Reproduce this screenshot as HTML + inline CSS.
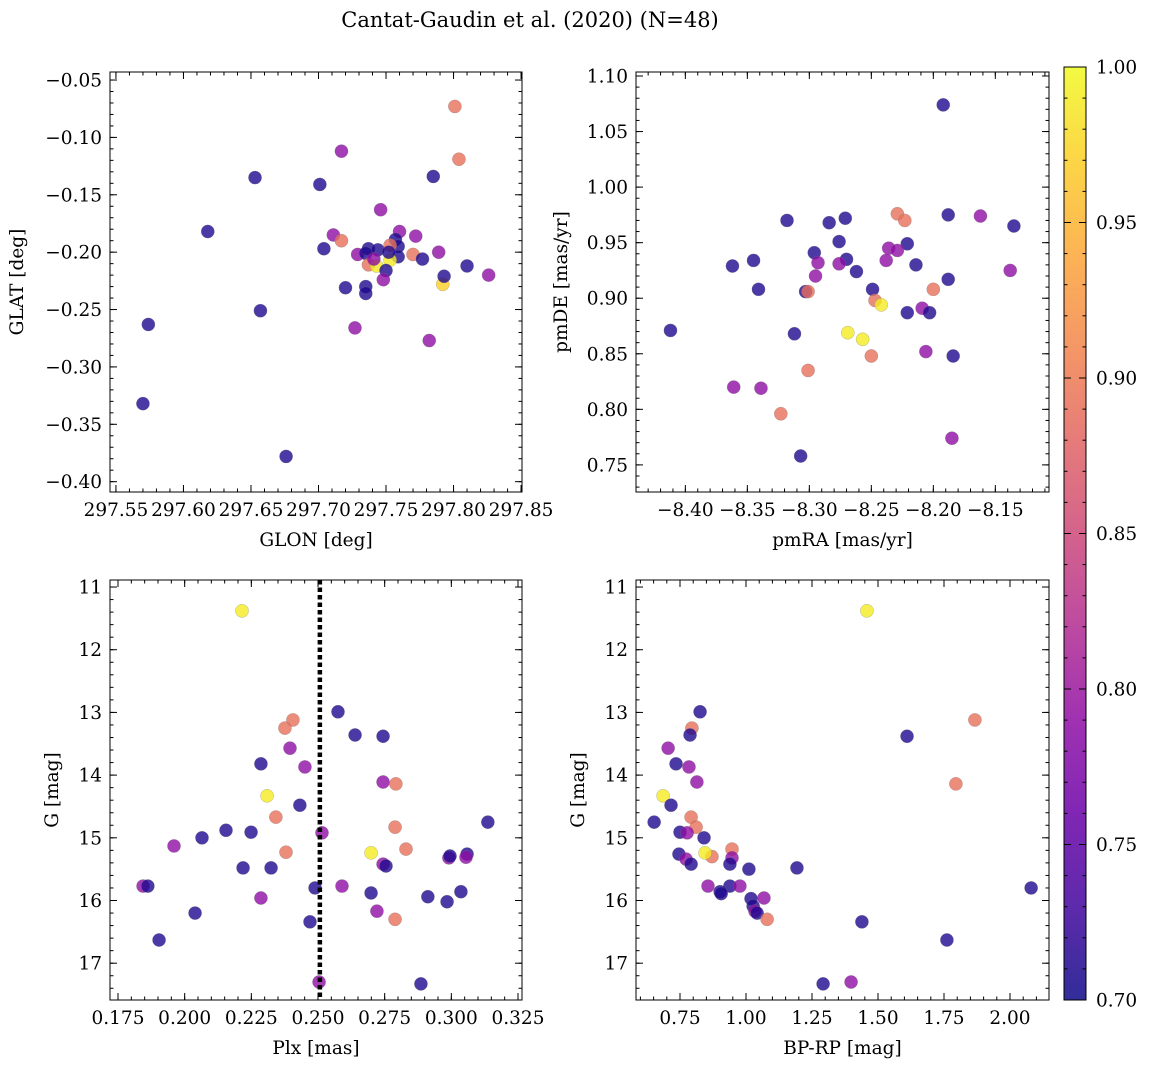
<!DOCTYPE html>
<html><head><meta charset="utf-8">
<style>
html,body{margin:0;padding:0;background:#fff;}
svg{display:block;font-family:"DejaVu Serif","Liberation Serif",serif;}
</style></head>
<body>
<svg id="fig" width="1149" height="1067" viewBox="0 0 1149 1067" xmlns="http://www.w3.org/2000/svg">
<text x="530" y="27" font-size="21" text-anchor="middle">Cantat-Gaudin et al. (2020) (N=48)</text>
</svg>
<script>
// ---------- data ----------
const glon = [297.801,297.804,297.717,297.653,297.785,297.701,297.618,297.746,297.711,297.717,297.760,297.772,297.704,297.729,297.737,297.744,297.757,297.759,297.753,297.735,297.770,297.789,297.759,297.777,297.737,297.743,297.753,297.750,297.748,297.792,297.793,297.810,297.826,297.720,297.735,297.735,297.727,297.782,297.657,297.574,297.570,297.676,297.741,297.752];
const glat = [-0.073,-0.119,-0.112,-0.135,-0.134,-0.141,-0.182,-0.163,-0.185,-0.190,-0.182,-0.186,-0.197,-0.202,-0.197,-0.198,-0.189,-0.195,-0.194,-0.201,-0.202,-0.200,-0.204,-0.206,-0.211,-0.212,-0.207,-0.216,-0.224,-0.228,-0.221,-0.212,-0.220,-0.231,-0.230,-0.236,-0.266,-0.277,-0.251,-0.263,-0.332,-0.378,-0.206,-0.200];
const probA = [0.89,0.89,0.79,0.71,0.71,0.71,0.71,0.79,0.79,0.89,0.79,0.79,0.71,0.79,0.71,0.71,0.71,0.71,0.89,0.71,0.89,0.79,0.71,0.71,0.89,0.99,0.99,0.71,0.79,0.97,0.71,0.71,0.79,0.71,0.71,0.71,0.79,0.79,0.71,0.71,0.71,0.71,0.79,0.71];

const pmra = [-8.192,-8.229,-8.223,-8.188,-8.162,-8.135,-8.284,-8.271,-8.318,-8.276,-8.221,-8.236,-8.229,-8.296,-8.270,-8.293,-8.276,-8.238,-8.345,-8.362,-8.262,-8.214,-8.295,-8.138,-8.188,-8.341,-8.249,-8.200,-8.303,-8.301,-8.247,-8.242,-8.209,-8.221,-8.203,-8.412,-8.312,-8.269,-8.257,-8.206,-8.250,-8.184,-8.301,-8.361,-8.339,-8.323,-8.185,-8.307];
const pmde = [1.074,0.976,0.970,0.975,0.974,0.965,0.968,0.972,0.970,0.951,0.949,0.945,0.943,0.941,0.935,0.932,0.931,0.934,0.934,0.929,0.924,0.930,0.920,0.925,0.917,0.908,0.908,0.908,0.906,0.906,0.898,0.894,0.891,0.887,0.887,0.871,0.868,0.869,0.863,0.852,0.848,0.848,0.835,0.820,0.819,0.796,0.774,0.758];
const probB = [0.71,0.89,0.89,0.71,0.79,0.71,0.71,0.71,0.71,0.71,0.71,0.79,0.79,0.71,0.71,0.79,0.79,0.79,0.71,0.71,0.71,0.71,0.79,0.79,0.71,0.71,0.71,0.89,0.71,0.89,0.89,0.99,0.79,0.71,0.71,0.71,0.71,0.99,0.99,0.79,0.89,0.71,0.89,0.79,0.79,0.89,0.79,0.71];

const plx = [0.2215,0.2575,0.2406,0.2376,0.2639,0.2744,0.2395,0.2286,0.2451,0.2744,0.2792,0.2309,0.2432,0.2342,0.2789,0.2155,0.2249,0.2515,0.2065,0.3137,0.196,0.283,0.238,0.2699,0.3059,0.3055,0.2991,0.2995,0.2744,0.2755,0.2219,0.2324,0.1844,0.1862,0.2489,0.259,0.2699,0.3036,0.2286,0.2912,0.2984,0.2721,0.2039,0.2789,0.247,0.1904,0.2886,0.2504];
const gmagC = [11.38,12.99,13.12,13.25,13.36,13.38,13.57,13.82,13.87,14.11,14.14,14.33,14.48,14.67,14.83,14.88,14.91,14.92,15.00,14.75,15.13,15.18,15.23,15.24,15.26,15.31,15.32,15.29,15.42,15.45,15.48,15.48,15.77,15.77,15.80,15.77,15.88,15.86,15.96,15.94,16.02,16.17,16.20,16.30,16.34,16.63,17.33,17.30];
const probC = [0.99,0.71,0.89,0.89,0.71,0.71,0.79,0.71,0.79,0.79,0.89,0.99,0.71,0.89,0.89,0.71,0.71,0.79,0.71,0.71,0.79,0.89,0.89,0.99,0.71,0.79,0.79,0.71,0.79,0.71,0.71,0.71,0.79,0.71,0.71,0.79,0.71,0.71,0.79,0.71,0.71,0.79,0.71,0.89,0.71,0.71,0.71,0.79];
const plxLine = 0.2507;

const bprp = [1.458,0.826,1.867,0.795,0.788,1.610,0.705,0.735,0.784,0.814,1.795,0.686,0.716,0.792,0.811,0.652,0.75,0.777,0.841,0.947,0.746,0.871,0.845,0.947,0.773,0.939,0.792,1.011,1.193,2.08,0.856,0.939,0.977,0.902,0.906,1.068,1.019,1.027,1.034,1.042,1.08,1.439,1.761,1.292,1.398];
const gmagD = [11.38,12.99,13.12,13.25,13.36,13.38,13.57,13.82,13.87,14.11,14.14,14.33,14.48,14.67,14.83,14.75,14.91,14.92,15.00,15.18,15.26,15.30,15.24,15.32,15.34,15.42,15.42,15.50,15.48,15.80,15.77,15.77,15.77,15.86,15.89,15.96,15.97,16.09,16.17,16.20,16.30,16.34,16.63,17.33,17.30];
const probD = [0.99,0.71,0.89,0.89,0.71,0.71,0.79,0.71,0.79,0.79,0.89,0.99,0.71,0.89,0.89,0.71,0.71,0.79,0.71,0.89,0.71,0.89,0.99,0.79,0.79,0.71,0.71,0.71,0.71,0.71,0.79,0.71,0.79,0.71,0.71,0.79,0.71,0.71,0.79,0.71,0.89,0.71,0.71,0.71,0.79];

const ticksA_x = [297.55,297.60,297.65,297.70,297.75,297.80,297.85];
const ticksA_y = [-0.05,-0.10,-0.15,-0.20,-0.25,-0.30,-0.35,-0.40];
const ticksB_x = [-8.40,-8.35,-8.30,-8.25,-8.20,-8.15];
const ticksB_y = [0.75,0.80,0.85,0.90,0.95,1.00,1.05,1.10];
const ticksC_x = [0.175,0.200,0.225,0.250,0.275,0.300,0.325];
const ticksG = [11,12,13,14,15,16,17];
const ticksD_x = [0.75,1.00,1.25,1.50,1.75,2.00];
const ticksCbar = [0.70,0.75,0.80,0.85,0.90,0.95,1.00];

// ---------- helpers ----------
const NS='http://www.w3.org/2000/svg';
const svg=document.getElementById('fig');
function mk(tag,attrs,parent){const e=document.createElementNS(NS,tag);for(const k in attrs)e.setAttribute(k,attrs[k]);(parent||svg).appendChild(e);return e;}
const stops=['#0d0887','#41049d','#6a00a8','#8f0da4','#b12a90','#cc4778','#e16462','#f2844b','#fca636','#fcce25','#f0f921'];
function hex(h){return [1,3,5].map(i=>parseInt(h.substr(i,2),16));}
function plasma(t){t=Math.max(0,Math.min(1,t));const f=t*10,i=Math.min(9,Math.floor(f)),r=f-i;const a=hex(stops[i]),b=hex(stops[i+1]);return 'rgb('+a.map((v,k)=>Math.round(v+(b[k]-v)*r)).join(',')+')';}
function cnorm(p){return (p-0.70)/0.30;}
function fmt(v,d){return (v<0?'\u2212':'')+Math.abs(v).toFixed(d);}
const TF=18.5, LF=18.5;

function panel(o){
  const g=mk('g',{});
  
  
  const sx=v=>o.x0+(v-o.xmin)/(o.xmax-o.xmin)*(o.x1-o.x0);
  const sy=v=>o.invert? o.y0+(v-o.ymin)/(o.ymax-o.ymin)*(o.y1-o.y0) : o.y1-(v-o.ymin)/(o.ymax-o.ymin)*(o.y1-o.y0);
  const pg=mk('g',{},g);
  
  
  o.xs.forEach((xv,i)=>{
    const c=mk('circle',{cx:sx(xv),cy:sy(o.ys[i]),r:6.6,fill:plasma(cnorm(o.ps[i])),'fill-opacity':0.8,stroke:'#777','stroke-opacity':0.5,'stroke-width':0.5},pg);
    
    
  });
  if(o.vline!==undefined){
    const l=mk('line',{x1:sx(o.vline),x2:sx(o.vline),y1:o.y0,y2:o.y1,stroke:'#000','stroke-width':4.5,'stroke-dasharray':'4.5,3'},g);
    
    
  }
  const fr=mk('rect',{x:o.x0,y:o.y0,width:o.x1-o.x0,height:o.y1-o.y0,fill:'none',stroke:'#000','stroke-width':1},g);
  
  
  for(let v=Math.ceil(o.xmin/o.xminor-1e-6)*o.xminor;v<=o.xmax;v+=o.xminor){const X=sx(v);mk('line',{x1:X,x2:X,y1:o.y1,y2:o.y1-3.5,stroke:'#000'},g);mk('line',{x1:X,x2:X,y1:o.y0,y2:o.y0+3.5,stroke:'#000'},g);}
  for(let v=Math.ceil(o.ymin/o.yminor-1e-6)*o.yminor;v<=o.ymax;v+=o.yminor){const Y=sy(v);mk('line',{x1:o.x0,x2:o.x0+3.5,y1:Y,y2:Y,stroke:'#000'},g);mk('line',{x1:o.x1,x2:o.x1-3.5,y1:Y,y2:Y,stroke:'#000'},g);}
  o.xt.forEach(v=>{const X=sx(v);mk('line',{x1:X,x2:X,y1:o.y1,y2:o.y1-7,stroke:'#000'},g);mk('line',{x1:X,x2:X,y1:o.y0,y2:o.y0+7,stroke:'#000'},g);
    const t=mk('text',{x:X,y:o.y1+24,'font-size':TF,'text-anchor':'middle'},g);t.textContent=fmt(v,o.xd);
    
    });
  o.yt.forEach(v=>{const Y=sy(v);mk('line',{x1:o.x0,x2:o.x0+7,y1:Y,y2:Y,stroke:'#000'},g);mk('line',{x1:o.x1,x2:o.x1-7,y1:Y,y2:Y,stroke:'#000'},g);
    const t=mk('text',{x:o.x0-8,y:Y+6.5,'font-size':TF,'text-anchor':'end'},g);t.textContent=fmt(v,o.yd);
    
    });
  const xl=mk('text',{x:(o.x0+o.x1)/2,y:o.y1+54,'font-size':LF,'text-anchor':'middle'},g);xl.textContent=o.xlabel;
  
  
  const yx=o.ylx, yy=(o.y0+o.y1)/2;
  const yl=mk('text',{x:yx,y:yy,'font-size':LF,'text-anchor':'middle',transform:'rotate(-90 '+yx+' '+yy+')'},g);yl.textContent=o.ylabel;
  
  
}

panel({name:'glon-glat-panel',x0:110,x1:522,y0:72,y1:492,xmin:297.5456,xmax:297.8507,ymin:-0.409,ymax:-0.043,xs:glon,ys:glat,ps:probA,xt:ticksA_x,yt:ticksA_y,xd:2,yd:2,xminor:0.01,yminor:0.01,xlabel:'GLON [deg]',ylabel:'GLAT [deg]',ylx:23});
panel({name:'proper-motion-panel',x0:636,x1:1049,y0:72,y1:492,xmin:-8.4398,xmax:-8.1067,ymin:0.7256,ymax:1.1036,xs:pmra,ys:pmde,ps:probB,xt:ticksB_x,yt:ticksB_y,xd:2,yd:2,xminor:0.01,yminor:0.01,xlabel:'pmRA [mas/yr]',ylabel:'pmDE [mas/yr]',ylx:567});
panel({name:'parallax-mag-panel',x0:110,x1:522,y0:580,y1:1000,xmin:0.172,xmax:0.3265,ymin:10.888,ymax:17.587,invert:true,xs:plx,ys:gmagC,ps:probC,xt:ticksC_x,yt:ticksG,xd:3,yd:0,xminor:0.005,yminor:0.2,xlabel:'Plx [mas]',ylabel:'G [mag]',ylx:58,vline:plxLine});
panel({name:'color-mag-panel',x0:636,x1:1049,y0:580,y1:1000,xmin:0.5833,xmax:2.1477,ymin:10.888,ymax:17.587,invert:true,xs:bprp,ys:gmagD,ps:probD,xt:ticksD_x,yt:ticksG,xd:2,yd:0,xminor:0.05,yminor:0.2,xlabel:'BP-RP [mag]',ylabel:'G [mag]',ylx:584});

(function(){
  const g=mk('g',{});
  
  
  const x0=1064,x1=1086,y0=67,y1=1000;
  const defs=mk('defs',{},g);
  const lg=mk('linearGradient',{id:'cb',x1:0,y1:1,x2:0,y2:0},defs);
  stops.forEach((s,i)=>mk('stop',{offset:i/10,'stop-color':s,'stop-opacity':0.85},lg));
  const r=mk('rect',{x:x0,y:y0,width:x1-x0,height:y1-y0,fill:'url(#cb)',stroke:'#000','stroke-width':1},g);
  
  
  const sy=v=>y1-(v-0.70)/0.30*(y1-y0);
  for(let v=0.70;v<=1.0001;v+=0.01){const Y=sy(v);mk('line',{x1:x1,x2:x1-3.5,y1:Y,y2:Y,stroke:'#000'},g);mk('line',{x1:x0,x2:x0+3.5,y1:Y,y2:Y,stroke:'#000'},g);}
  ticksCbar.forEach(v=>{const Y=sy(v);mk('line',{x1:x1,x2:x1-7,y1:Y,y2:Y,stroke:'#000'},g);mk('line',{x1:x0,x2:x0+7,y1:Y,y2:Y,stroke:'#000'},g);
    const t=mk('text',{x:x1+10,y:Y+6.5,'font-size':TF},g);t.textContent=v.toFixed(2);
    
    });
})();
</script>
</body></html>
